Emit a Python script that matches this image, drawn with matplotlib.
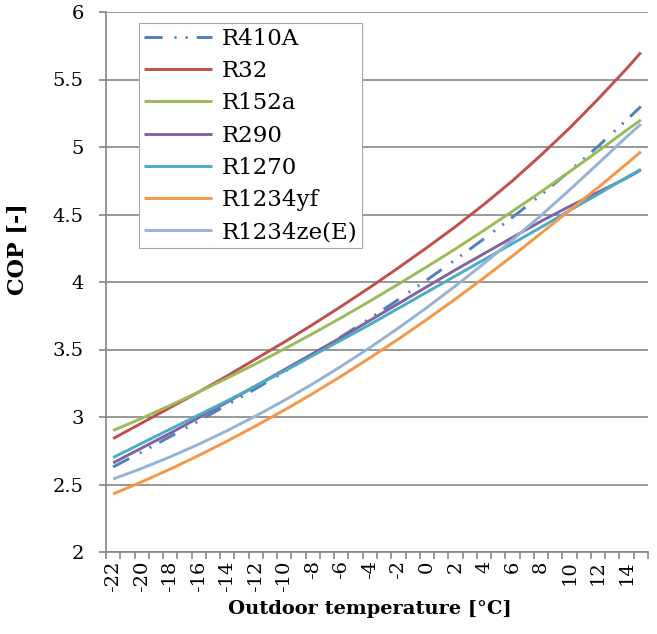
import matplotlib
matplotlib.use("Agg")
import matplotlib.pyplot as plt
from matplotlib.ticker import FixedLocator

#=====================================================================
# Data (COP vs outdoor temperature)
temperature = [-22, -20, -18, -16, -14, -12, -10, -8, -6, -4, -2, 0, 2, 4, 6, 8, 10, 12, 14, 15]

r410a = [2.63, 2.74, 2.855, 2.97, 3.09, 3.21, 3.335, 3.465, 3.595, 3.73, 3.87, 4.015, 4.165, 4.32, 4.48, 4.645, 4.82, 5.005, 5.20, 5.30]
r32 = [2.84, 2.955, 3.07, 3.185, 3.305, 3.43, 3.555, 3.685, 3.82, 3.96, 4.105, 4.255, 4.41, 4.575, 4.75, 4.94, 5.14, 5.355, 5.58, 5.70]
r152a = [2.90, 2.99, 3.086, 3.185, 3.288, 3.394, 3.504, 3.618, 3.736, 3.858, 3.984, 4.113, 4.245, 4.383, 4.524, 4.668, 4.817, 4.969, 5.125, 5.20]
r290 = [2.66, 2.77, 2.88, 2.995, 3.11, 3.23, 3.35, 3.47, 3.59, 3.715, 3.84, 3.965, 4.09, 4.21, 4.33, 4.45, 4.56, 4.665, 4.77, 4.83]
r1270 = [2.70, 2.805, 2.91, 3.015, 3.12, 3.23, 3.34, 3.455, 3.57, 3.685, 3.805, 3.925, 4.045, 4.165, 4.285, 4.405, 4.53, 4.65, 4.775, 4.835]
r1234yf = [2.43, 2.519, 2.614, 2.715, 2.822, 2.934, 3.051, 3.174, 3.303, 3.438, 3.577, 3.723, 3.874, 4.031, 4.193, 4.361, 4.53, 4.70, 4.875, 4.965]
r1234ze = [2.54, 2.619, 2.705, 2.798, 2.899, 3.008, 3.123, 3.246, 3.376, 3.514, 3.659, 3.811, 3.971, 4.137, 4.312, 4.493, 4.682, 4.877, 5.075, 5.17]

series_names = ["R410A", "R32", "R152a", "R290", "R1270", "R1234yf", "R1234ze(E)"]
series_values = [r410a, r32, r152a, r290, r1270, r1234yf, r1234ze]
series_colors = ["#4F81BD", "#C0504D", "#9BBB59", "#8064A2", "#4BACC6", "#F79646", "#95B3D7"]

x_tick_labels = list(range(-22, 15, 2))
y_ticks = [2, 2.5, 3, 3.5, 4, 4.5, 5, 5.5, 6]

#=====================================================================
# Figure setup
plt.rcParams['font.family'] = ['DejaVu Serif']
grey = "#868686"

fig = plt.figure(figsize=(6.57, 6.34), dpi=100)
ax = fig.add_axes([106 / 657, 1 - 552 / 634, 542 / 657, 540 / 634])

for name, values, color in zip(series_names, series_values, series_colors):
    line, = ax.plot(temperature, values, color=color, lw=2.1, label=name, solid_capstyle='butt')
    if name == "R410A":
        line.set_dashes((6.2, 4.1, 0.7, 3.1, 0.7, 3.1))

#---------------------------------------------------------------------
# Axes
ax.set_xlim(-22.5, 15.5)
ax.set_ylim(2, 6)
ax.set_yticks(y_ticks)
ax.set_yticklabels(["2", "2.5", "3", "3.5", "4", "4.5", "5", "5.5", "6"])
ax.set_xticks(x_tick_labels)
ax.set_xticklabels([str(t) for t in x_tick_labels], rotation=90)
ax.xaxis.set_minor_locator(FixedLocator([t + 0.5 for t in range(-23, 16)]))

ax.tick_params(axis='x', which='major', length=0, pad=6, labelsize=14)
ax.tick_params(axis='x', which='minor', length=5, width=1.2, color=grey)
ax.tick_params(axis='y', which='major', length=5, width=1.2, color=grey, pad=11, labelsize=14)

ax.grid(axis='y', color=grey, lw=1.2)
ax.set_axisbelow(True)
for side in ['top', 'right']:
    ax.spines[side].set_visible(False)
for side in ['left', 'bottom']:
    ax.spines[side].set_color(grey)
    ax.spines[side].set_linewidth(1.2)

ax.set_xlabel("Outdoor temperature [°C]", fontsize=14, fontweight='bold')
ax.set_ylabel("COP [-]", fontsize=16, fontweight='bold')
ax.xaxis.set_label_coords(0.487, -0.088)
ax.yaxis.set_label_coords(-0.142, 0.56)

#---------------------------------------------------------------------
# Legend
leg = ax.legend(loc='upper left', bbox_to_anchor=(33 / 542, 1 - 11 / 540), borderaxespad=0,
                fontsize=16.5, handlelength=3.0, handletextpad=0.4, borderpad=0.2,
                labelspacing=0.45, fancybox=False, framealpha=1, edgecolor="#A6A6A6")
leg.get_frame().set_linewidth(0.8)

fig.savefig("out.png", dpi=100)
